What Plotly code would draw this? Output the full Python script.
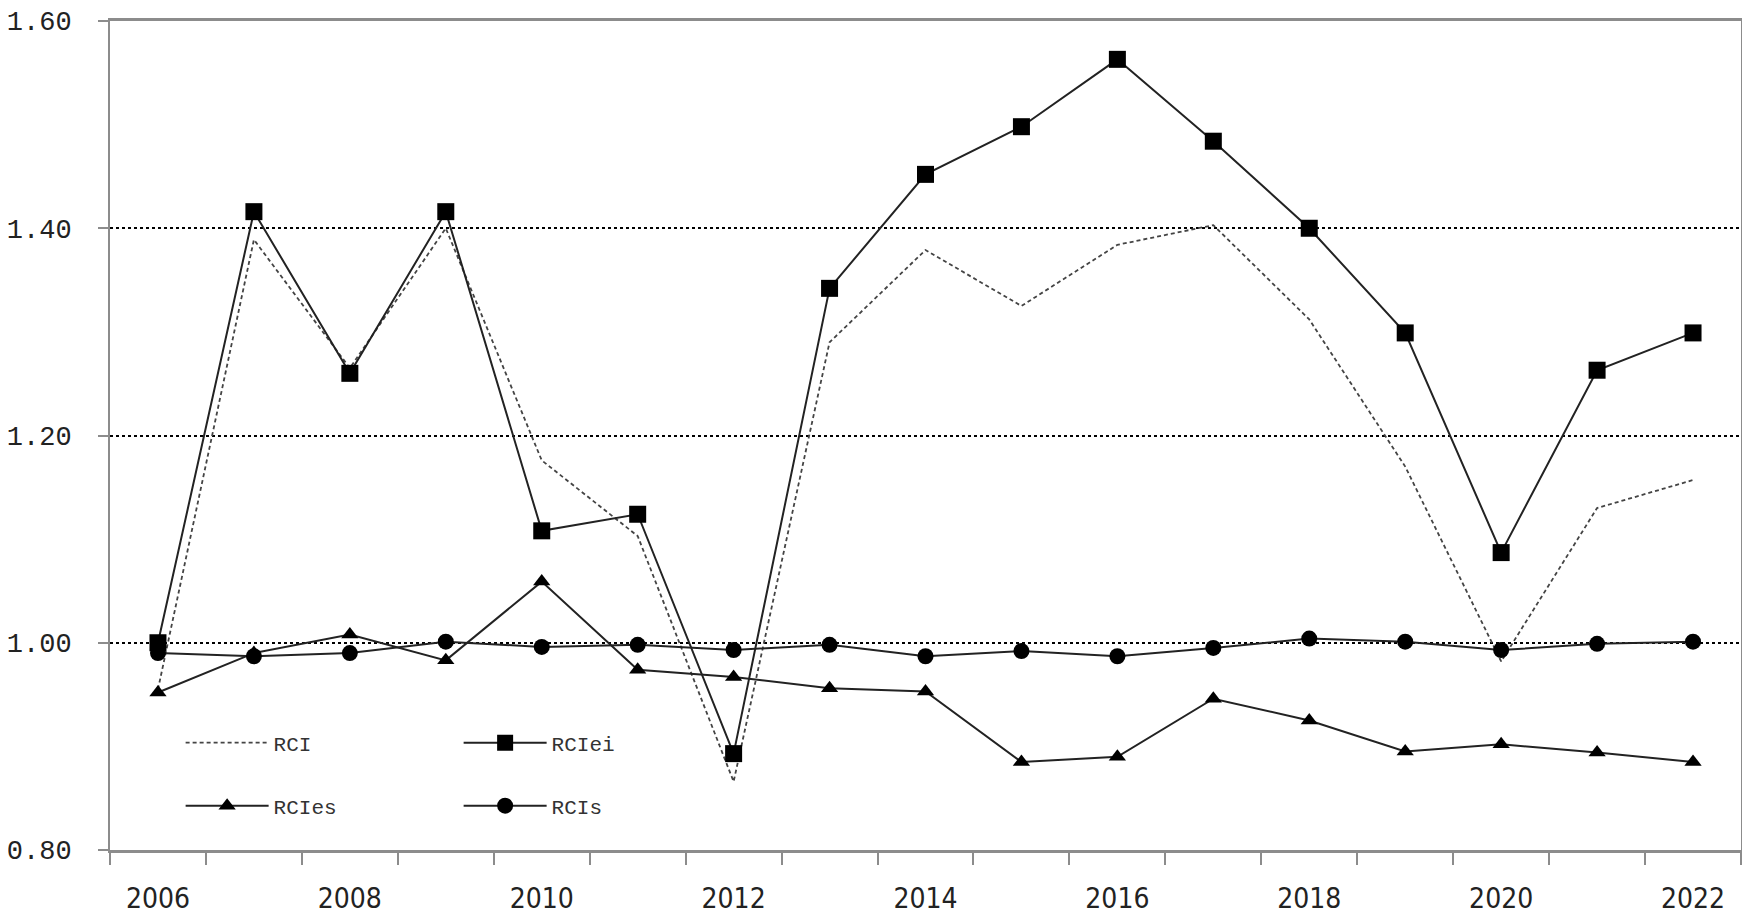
import plotly.graph_objects as go

years = list(range(2006, 2023))
rci = [0.955, 1.389, 1.265, 1.400, 1.176, 1.103, 0.866, 1.290, 1.379, 1.325,
       1.384, 1.403, 1.312, 1.170, 0.982, 1.130, 1.157]
rci_ei = [1.000, 1.416, 1.260, 1.416, 1.108, 1.124, 0.893, 1.342, 1.452, 1.498,
          1.563, 1.484, 1.400, 1.299, 1.087, 1.263, 1.299]
rci_es = [0.952, 0.990, 1.008, 0.983, 1.059, 0.974, 0.967, 0.956, 0.953, 0.885,
          0.890, 0.946, 0.925, 0.895, 0.902, 0.894, 0.885]
rci_s = [0.990, 0.987, 0.990, 1.001, 0.996, 0.998, 0.993, 0.998, 0.987, 0.992,
         0.987, 0.995, 1.004, 1.001, 0.993, 0.999, 1.001]
x_labels = [str(y) for y in range(2006, 2023, 2)]
y_ticks = [0.80, 1.00, 1.20, 1.40, 1.60]

fig = go.Figure()
fig.add_trace(go.Scatter(x=years, y=rci, name="RCI", mode="lines",
                         line=dict(color="#444444", width=1.8, dash="4px,3px"),
                         legend="legend"))
fig.add_trace(go.Scatter(x=years, y=rci_ei, name="RCIei", mode="lines+markers",
                         line=dict(color="#222222", width=2),
                         marker=dict(symbol="square", size=17, color="black"),
                         legend="legend"))
fig.add_trace(go.Scatter(x=years, y=rci_es, name="RCIes", mode="lines+markers",
                         line=dict(color="#222222", width=2),
                         marker=dict(symbol="triangle-up", size=15, color="black"),
                         legend="legend2"))
fig.add_trace(go.Scatter(x=years, y=rci_s, name="RCIs", mode="lines+markers",
                         line=dict(color="#222222", width=2),
                         marker=dict(symbol="circle", size=16, color="black"),
                         legend="legend2"))

legend_common = dict(orientation="h", xanchor="left", yanchor="middle",
                     bgcolor="rgba(0,0,0,0)", entrywidth=180, entrywidthmode="pixels",
                     itemwidth=83,
                     font=dict(family="Liberation Mono, monospace", size=21, color="#333333"))
fig.update_layout(
    width=1742, height=911,
    margin=dict(l=102, r=9, t=13, b=69),
    paper_bgcolor="white", plot_bgcolor="white",
    showlegend=True,
    legend=dict(x=0.0433, y=0.129, **legend_common),
    legend2=dict(x=0.0433, y=0.053, **legend_common),
    xaxis=dict(range=[2005.5, 2022.5], tickmode="array",
               tickvals=list(range(2006, 2023, 2)), ticktext=x_labels,
               ticks="", showgrid=False, zeroline=False, automargin=False,
               showline=True, linecolor="#8c8c8c", linewidth=3, mirror=True,
               tickfont=dict(family="Liberation Sans Narrow, DejaVu Sans Condensed, sans-serif",
                             size=28, color="#222222"),
               ticklabelstandoff=21,
               minor=dict(tickmode="linear", tick0=2005.5, dtick=1, ticks="outside",
                          ticklen=12, tickwidth=2, tickcolor="#8c8c8c", showgrid=False)),
    yaxis=dict(range=[0.8, 1.6], tickmode="array", tickvals=y_ticks,
               tickformat=".2f", ticks="outside", ticklen=10, tickwidth=2,
               tickcolor="#8c8c8c", automargin=False,
               showgrid=True, gridcolor="black", griddash="dot", gridwidth=2,
               zeroline=False, showline=True, linecolor="#8c8c8c", linewidth=2, mirror=True,
               tickfont=dict(family="Liberation Mono, monospace", size=27, color="#222222"),
               ticklabelstandoff=21),
)

fig.write_html("out.html")
